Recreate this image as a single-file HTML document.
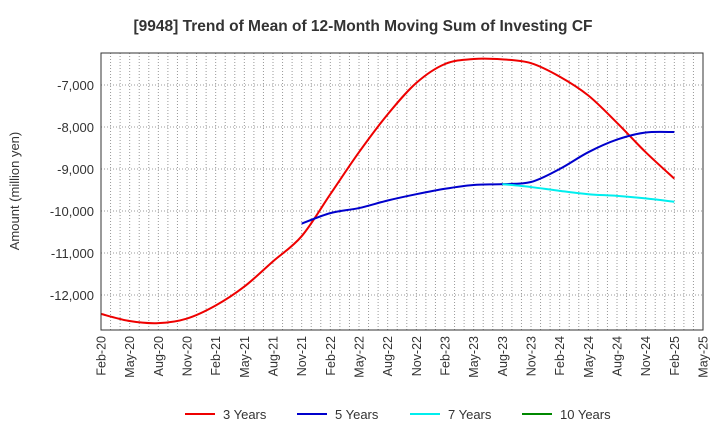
<!DOCTYPE html>
<html><head><meta charset="utf-8"><style>
body{margin:0;background:#fff;font-family:"Liberation Sans",sans-serif}
svg text{font-family:"Liberation Sans",sans-serif}
</style></head><body>
<svg id="c" width="720" height="440">
<text x="363" y="31" text-anchor="middle" font-size="15.5" font-weight="bold" fill="#333">[9948]  Trend of Mean of 12-Month Moving Sum of Investing CF</text>
<text transform="translate(19,191) rotate(-90)" text-anchor="middle" font-size="13" fill="#333">Amount (million yen)</text>
<g id="grid"></g><g id="series"></g><g id="axes"></g>
<g>
<line x1="185" y1="414" x2="215" y2="414" stroke="#e00" stroke-width="2"/><text x="223" y="419" font-size="13" fill="#333">3 Years</text>
<line x1="297" y1="414" x2="327" y2="414" stroke="#00c" stroke-width="2"/><text x="335" y="419" font-size="13" fill="#333">5 Years</text>
<line x1="410" y1="414" x2="440" y2="414" stroke="#0ee" stroke-width="2"/><text x="448" y="419" font-size="13" fill="#333">7 Years</text>
<line x1="522" y1="414" x2="552" y2="414" stroke="#080" stroke-width="2"/><text x="560" y="419" font-size="13" fill="#333">10 Years</text>
</g>
</svg>
<script>
const xLabels=["Feb-20","May-20","Aug-20","Nov-20","Feb-21","May-21","Aug-21","Nov-21","Feb-22","May-22","Aug-22","Nov-22","Feb-23","May-23","Aug-23","Nov-23","Feb-24","May-24","Aug-24","Nov-24","Feb-25","May-25"];
const yTicks=[-12000,-11000,-10000,-9000,-8000,-7000];
const s3Start=0;
const s3=[-12450,-12620,-12670,-12560,-12250,-11800,-11200,-10600,-9600,-8600,-7700,-6950,-6500,-6380,-6390,-6480,-6800,-7250,-7900,-8600,-9230];
const s5Start=7;
const s5=[-10300,-10050,-9930,-9750,-9600,-9470,-9380,-9360,-9310,-9000,-8600,-8300,-8130,-8120];
const s7Start=14;
const s7=[-9360,-9430,-9520,-9600,-9640,-9700,-9780];
const L=101,R=703,T=53,B=330;
const x=q=>L+q*3*(R-L)/63;
const y=v=>85+(-7000-v)*42/1000;
const ns="http://www.w3.org/2000/svg";
const mk=(p,t,a)=>{const e=document.createElementNS(ns,t);for(const k in a)e.setAttribute(k,a[k]);document.getElementById(p).appendChild(e);return e;};
for(let m=0;m<=63;m++){const xx=L+m*(R-L)/63;
const g=mk('grid','line',{x1:xx,x2:xx,y1:T,y2:B,stroke:'#999','stroke-dasharray':'1,2','stroke-width':1});

}
yTicks.forEach(v=>{const g=mk('grid','line',{x1:L,x2:R,y1:y(v),y2:y(v),stroke:'#999','stroke-dasharray':'1,2'});


const t=mk('axes','text',{x:L-7,y:y(v)+5,'text-anchor':'end','font-size':13,fill:'#333'});t.textContent=v.toLocaleString('en-US');

});
xLabels.forEach((s,i)=>{const t=mk('axes','text',{transform:`translate(${x(i)+4.5},${B+6}) rotate(-90)`,'text-anchor':'end','font-size':12.5,fill:'#333'});t.textContent=s;

});
const fr=mk('axes','rect',{x:L,y:T,width:R-L,height:B-T,fill:'none',stroke:'#333'});


function smooth(pts){let d='M'+pts[0][0]+','+pts[0][1];
for(let i=0;i<pts.length-1;i++){const p0=pts[Math.max(0,i-1)],p1=pts[i],p2=pts[i+1],p3=pts[Math.min(pts.length-1,i+2)];
const c1=[p1[0]+(p2[0]-p0[0])/6,p1[1]+(p2[1]-p0[1])/6],c2=[p2[0]-(p3[0]-p1[0])/6,p2[1]-(p3[1]-p1[1])/6];
d+=` C${c1[0]},${c1[1]} ${c2[0]},${c2[1]} ${p2[0]},${p2[1]}`;}return d;}
[[s3,s3Start,'#e00','series-3-years'],[s5,s5Start,'#00c','series-5-years'],[s7,s7Start,'#0ee','series-7-years']].forEach(([d,st,c,n])=>{
const p=mk('series','path',{d:smooth(d.map((v,i)=>[x(st+i),y(v)])),fill:'none',stroke:c,'stroke-width':2,'stroke-linejoin':'round'});

});
</script>
</body></html>
